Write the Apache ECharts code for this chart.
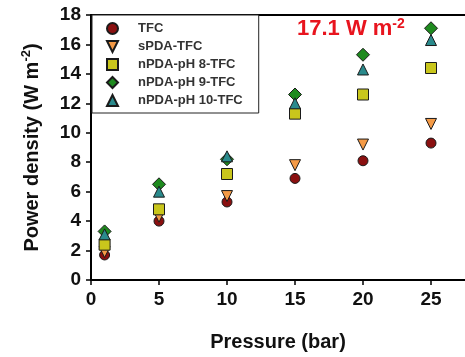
<!DOCTYPE html>
<html><head><meta charset="utf-8">
<script src="https://cdn.jsdelivr.net/npm/echarts@6/dist/echarts.min.js"></script>
<style>html,body{margin:0;padding:0;background:#fff}#c{width:465px;height:357px}</style>
</head><body><div id="c"></div>
<script>
const pressure = [1, 5, 10, 15, 20, 25];
const seriesNames = ["TFC", "sPDA-TFC", "nPDA-pH 8-TFC", "nPDA-pH 9-TFC", "nPDA-pH 10-TFC"];
const tfc    = [1.7, 4.0, 5.3, 6.9, 8.1, 9.3];
const spda   = [1.9, 4.3, 5.7, 7.8, 9.2, 10.6];
const ph8    = [2.4, 4.8, 7.2, 11.3, 12.6, 14.4];
const ph9    = [3.3, 6.5, 8.2, 12.6, 15.3, 17.1];
const ph10   = [3.1, 6.0, 8.4, 12.0, 14.3, 16.3];
const yTicks = [0, 2, 4, 6, 8, 10, 12, 14, 16, 18];
const xTicks = [0, 5, 10, 15, 20, 25];

const colors = ['#8a1010', '#f49a46', '#c9c61c', '#1e8a1e', '#2a8a8c'];
const symbols = ['circle', 'path://M0,0 L10,0 L5,10 Z', 'rect', 'diamond', 'triangle'];
const sizes = [10, 11, 11, 13, 11];
const all = [tfc, spda, ph8, ph9, ph10];
const font = 'Arial, "Liberation Sans", sans-serif';

const chart = echarts.init(document.getElementById('c'));
chart.setOption({
  animation: false,
  grid: {left: 91, top: 15, bottom: 76, right: 0, containLabel: false},
  legend: {
    orient: 'vertical', left: 92, top: 15,
    data: seriesNames.map((n, i) => ({name: n, icon: symbols[i]})),
    backgroundColor: '#fff', borderColor: '#222', borderWidth: 1,
    padding: [7, 16, 6, 14], itemGap: 5, itemWidth: 11, itemHeight: 11,
    textStyle: {fontFamily: font, fontWeight: 'bold', fontSize: 13, color: '#333', padding: [0, 0, 0, 15]}
  },
  xAxis: [{
    type: 'value', min: 0, max: 27.5, interval: 5,
    name: 'Pressure (bar)', nameLocation: 'middle', nameGap: 52,
    nameTextStyle: {fontFamily: font, fontWeight: 'bold', fontSize: 20, color: '#111'},
    axisLine: {lineStyle: {color: '#000', width: 2}},
    axisTick: {show: true, inside: false, length: 5, customValues: xTicks, lineStyle: {color: '#000', width: 1.5}},
    axisLabel: {fontFamily: font, fontWeight: 'bold', fontSize: 19, color: '#111', margin: 10,
      customValues: xTicks},
    splitLine: {show: false}
  }, {
    type: 'value', min: 0, max: 27.5, position: 'top',
    axisLine: {show: true, lineStyle: {color: '#000', width: 2}},
    axisTick: {show: false}, axisLabel: {show: false}, splitLine: {show: false}
  }],
  yAxis: {
    type: 'value', min: 0, max: 18, interval: 2,
    name: '{a|Power density (W m}{s|-2}{a|)}', nameLocation: 'middle', nameGap: 47, nameRotate: 90,
    nameTextStyle: {fontFamily: font, fontWeight: 'bold', fontSize: 20, color: '#111',
      rich: {a: {fontFamily: font, fontWeight: 'bold', fontSize: 20, color: '#111'},
             s: {fontFamily: font, fontWeight: 'bold', fontSize: 13, color: '#111', padding: [0, 0, 11, 0]}}},
    axisLine: {show: true, lineStyle: {color: '#000', width: 2}},
    axisTick: {show: true, inside: false, length: 5, lineStyle: {color: '#000', width: 1.5}},
    axisLabel: {fontFamily: font, fontWeight: 'bold', fontSize: 19, color: '#111', margin: 10,
      customValues: yTicks},
    splitLine: {show: false}
  },
  graphic: [{
    type: 'text', left: 297, top: 17,
    style: {
      text: '{a|17.1 W m}{s|-2}',
      rich: {a: {fontFamily: font, fontWeight: 'bold', fontSize: 22, fill: '#e8141e'},
             s: {fontFamily: font, fontWeight: 'bold', fontSize: 14, fill: '#e8141e', padding: [0, 0, 10, 0]}}
    }
  }],
  series: seriesNames.map((n, i) => ({
    name: n, type: 'scatter',
    data: pressure.map((p, j) => [p, all[i][j]]),
    symbol: symbols[i], symbolSize: sizes[i],
    itemStyle: {color: colors[i], borderColor: '#1a1a1a', borderWidth: 1, opacity: 1}
  }))
});
</script></body></html>
